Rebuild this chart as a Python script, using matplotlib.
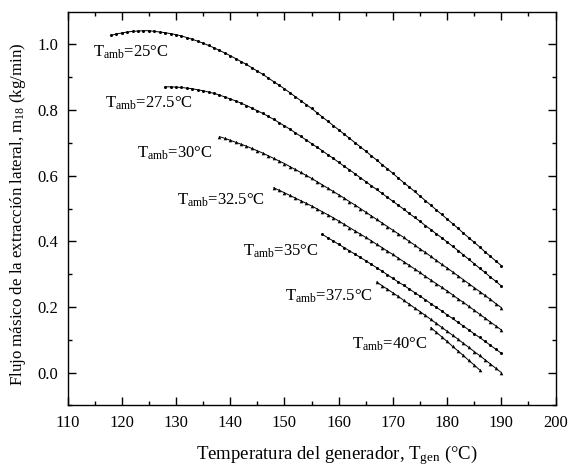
import matplotlib
matplotlib.use("Agg")
import matplotlib.pyplot as plt

plt.rcParams['font.family'] = ['Liberation Serif', 'DejaVu Serif']
plt.rcParams['mathtext.fontset'] = 'custom'
plt.rcParams['mathtext.rm'] = 'Liberation Serif'
plt.rcParams['mathtext.it'] = 'Liberation Serif:italic'

# ambient temperatures (one curve each)
t_amb = ['25', '27.5', '30', '32.5', '35', '37.5', '40']

# generator temperature (first point of each curve, step 1 degC)
t_start = [118, 128, 138, 148, 157, 167, 177]

# side extraction mass flow m18 (kg/min)
m_25 = [1.028, 1.032, 1.035, 1.038, 1.040, 1.041, 1.042, 1.042, 1.040, 1.038,
        1.036, 1.033, 1.030, 1.026, 1.021, 1.016, 1.010, 1.004, 0.997, 0.990,
        0.982, 0.974, 0.966, 0.957, 0.948, 0.939, 0.929, 0.919, 0.909, 0.898,
        0.887, 0.876, 0.865, 0.853, 0.841, 0.829, 0.817, 0.805, 0.792, 0.779,
        0.766, 0.753, 0.740, 0.727, 0.714, 0.701, 0.688, 0.675, 0.661, 0.648,
        0.634, 0.621, 0.607, 0.593, 0.579, 0.566, 0.552, 0.538, 0.524, 0.510,
        0.496, 0.482, 0.468, 0.454, 0.440, 0.425, 0.411, 0.397, 0.383, 0.368,
        0.354, 0.340, 0.326]
m_275 = [0.871, 0.871, 0.870, 0.869, 0.867, 0.865, 0.862, 0.859, 0.855, 0.851,
         0.846, 0.840, 0.834, 0.828, 0.821, 0.814, 0.806, 0.798, 0.790, 0.781,
         0.772, 0.762, 0.752, 0.742, 0.731, 0.720, 0.709, 0.698, 0.687, 0.676,
         0.664, 0.653, 0.641, 0.629, 0.618, 0.606, 0.594, 0.582, 0.570, 0.558,
         0.546, 0.534, 0.522, 0.510, 0.498, 0.485, 0.473, 0.461, 0.448, 0.436,
         0.423, 0.411, 0.398, 0.385, 0.372, 0.359, 0.345, 0.332, 0.318, 0.305,
         0.291, 0.278, 0.264]
m_30 = [0.719, 0.714, 0.708, 0.702, 0.696, 0.690, 0.683, 0.676, 0.669, 0.661,
        0.653, 0.645, 0.637, 0.628, 0.619, 0.610, 0.601, 0.592, 0.582, 0.572,
        0.562, 0.552, 0.542, 0.532, 0.521, 0.511, 0.500, 0.489, 0.478, 0.467,
        0.456, 0.445, 0.434, 0.423, 0.412, 0.400, 0.389, 0.377, 0.366, 0.354,
        0.342, 0.330, 0.319, 0.307, 0.295, 0.283, 0.271, 0.259, 0.247, 0.235,
        0.223, 0.210, 0.198]
m_325 = [0.563, 0.556, 0.548, 0.540, 0.532, 0.524, 0.516, 0.508, 0.499, 0.490,
         0.481, 0.472, 0.462, 0.452, 0.442, 0.432, 0.422, 0.412, 0.402, 0.391,
         0.381, 0.370, 0.360, 0.349, 0.338, 0.327, 0.316, 0.305, 0.293, 0.282,
         0.271, 0.260, 0.249, 0.237, 0.225, 0.214, 0.202, 0.190, 0.178, 0.166,
         0.154, 0.142, 0.130]
m_35 = [0.421, 0.411, 0.401, 0.391, 0.381, 0.371, 0.361, 0.351, 0.341, 0.330,
        0.320, 0.309, 0.298, 0.287, 0.276, 0.266, 0.255, 0.244, 0.233, 0.222,
        0.210, 0.199, 0.188, 0.176, 0.165, 0.153, 0.142, 0.130, 0.118, 0.107,
        0.095, 0.083, 0.071, 0.059]
m_375 = [0.276, 0.265, 0.254, 0.243, 0.232, 0.220, 0.209, 0.197, 0.186, 0.174,
         0.162, 0.150, 0.138, 0.126, 0.114, 0.102, 0.089, 0.077, 0.064, 0.052,
         0.039, 0.026, 0.013, 0.000]
m_40 = [0.137, 0.123, 0.109, 0.095, 0.080, 0.066, 0.052, 0.037, 0.023, 0.008]

series = [m_25, m_275, m_30, m_325, m_35, m_375, m_40]
markers = ['o', 'o', '^', '^', 'o', '^', '^']

# label anchors (left, baseline) in data units
label_pos = [(114.7, 0.964), (116.9, 0.808), (122.8, 0.656), (130.1, 0.511),
             (142.4, 0.356), (150.1, 0.219), (162.4, 0.072)]

fig = plt.figure(figsize=(5.68, 4.67), dpi=100)
ax = fig.add_axes([0.119, 0.132, 0.859, 0.843])

for name, t0, m, mk, (lx, ly) in zip(t_amb, t_start, series, markers, label_pos):
    t = list(range(t0, t0 + len(m)))
    ax.plot(t, m, color='black', linewidth=0.7, marker=mk,
            markersize=2.2 if mk == 'o' else 2.6, markeredgewidth=0)
    ax.text(lx, ly, 'T$_{\\mathrm{amb}}$=' + name + '°C', fontsize=12,
            ha='left', va='baseline')

ax.set_xlim(110, 200)
ax.set_ylim(-0.1, 1.1)
ax.set_xticks(range(110, 201, 10))
ax.set_xticks(range(115, 200, 10), minor=True)
ax.set_yticks([0.0, 0.2, 0.4, 0.6, 0.8, 1.0])
ax.set_yticks([-0.1, 0.1, 0.3, 0.5, 0.7, 0.9], minor=True)
ax.set_yticklabels(['0.0', '0.2', '0.4', '0.6', '0.8', '1.0'])
ax.tick_params(which='both', direction='in', top=True, right=True,
               labelsize=12, width=1.0)
ax.tick_params(which='major', length=6, pad=7)
ax.tick_params(which='minor', length=3)
for s in ax.spines.values():
    s.set_linewidth(1.0)

ax.set_xlabel('Temperatura del generador, T$_{\\mathrm{gen}}$ (°C)', fontsize=13.5)
ax.xaxis.set_label_coords(0.551, -0.095)
ax.set_ylabel('Flujo másico de la extracción lateral, m$_{18}$ (kg/min)', fontsize=12.2)
ax.yaxis.set_label_coords(-0.081, 0.486)

fig.savefig('out.png', dpi=100)
